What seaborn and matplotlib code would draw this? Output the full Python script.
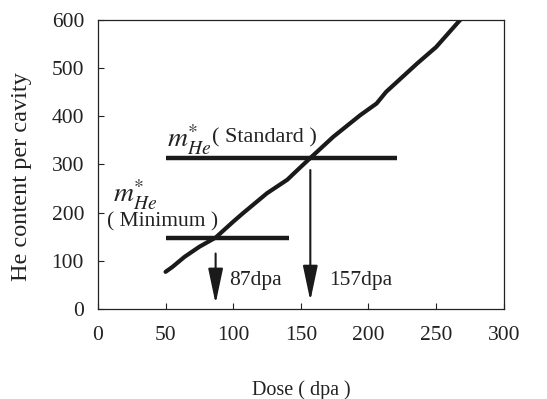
import matplotlib
matplotlib.use("Agg")
import matplotlib.pyplot as plt
import seaborn as sns
import pandas as pd

# Helium content per cavity vs. dose
dose = [50, 55, 64, 75, 87, 100, 107, 125, 140, 149, 157, 174, 194, 206, 213, 236, 250, 268]
he_content = [77, 87, 108, 129, 148, 181, 198, 240, 268, 292, 313, 357, 402, 426, 450, 509, 543, 600]

# Critical helium content levels and the doses where they are reached
standard_level = 313
standard_span = [50, 221]
minimum_level = 147
minimum_span = [50, 141]
dose_minimum = 87
dose_standard = 157

x_ticks = [0, 50, 100, 150, 200, 250, 300]
y_ticks = [0, 100, 200, 300, 400, 500, 600]

sns.set_theme(style="ticks")
plt.rcParams["font.family"] = ["Liberation Serif", "DejaVu Serif"]
plt.rcParams["mathtext.fontset"] = "stix"

ink = "#1a1a1a"
txt = "#222222"
fs = 15.5

fig = plt.figure(figsize=(5.47, 3.99), dpi=100)
ax = fig.add_axes([0.179, 0.2256, 0.742, 0.7254])

df = pd.DataFrame({"dose": dose, "he": he_content})
sns.lineplot(data=df, x="dose", y="he", ax=ax, color=ink, linewidth=3.0,
             estimator=None, sort=False)

ax.hlines(standard_level, standard_span[0], standard_span[1], color=ink, linewidth=3.2)
ax.hlines(minimum_level, minimum_span[0], minimum_span[1], color=ink, linewidth=3.2)

head = "-|>,head_length=1.8,head_width=0.38"
ax.annotate("", xy=(dose_minimum, 11), xytext=(dose_minimum, 115),
            arrowprops=dict(arrowstyle=head, color=ink, lw=1.5, shrinkA=0, shrinkB=0,
                            mutation_scale=12))
ax.annotate("", xy=(dose_standard, 17), xytext=(dose_standard, 288),
            arrowprops=dict(arrowstyle=head, color=ink, lw=1.5, shrinkA=0, shrinkB=0,
                            mutation_scale=12))

ax.text(dose_minimum + 10, 60, f"{dose_minimum}dpa", fontsize=fs, va="center", ha="left", color=txt)
ax.text(dose_standard + 14, 60, f"{dose_standard}dpa", fontsize=fs, va="center", ha="left", color=txt)
ax.text(51, 350, r"$\mathbf{\mathit{m}}^{*}_{He}$", fontsize=20, va="center", ha="left", color=txt)
ax.text(84, 354, "( Standard )", fontsize=16, va="center", ha="left", color=txt)
ax.text(11, 236, r"$\mathbf{\mathit{m}}^{*}_{He}$", fontsize=20, va="center", ha="left", color=txt)
ax.text(6.5, 180, "( Minimum )", fontsize=fs, va="center", ha="left", color=txt)

ax.set_xlim(0, 300)
ax.set_ylim(0, 600)
ax.set_xticks(x_ticks)
ax.set_yticks(y_ticks)
ax.tick_params(direction="in", length=4, width=0.8, labelsize=fs, colors=txt)
ax.tick_params(axis="x", pad=12)
ax.tick_params(axis="y", pad=10)
for s in ax.spines.values():
    s.set_linewidth(0.9)
    s.set_color(txt)
    s.set_visible(True)

ax.set_xlabel("Dose ( dpa )", fontsize=14.5, color=txt)
ax.xaxis.set_label_coords(0.5, -0.245)
ax.set_ylabel("He content per cavity", fontsize=17.5, color=txt)
ax.yaxis.set_label_coords(-0.163, 0.457)

fig.savefig("out.png", dpi=100)
